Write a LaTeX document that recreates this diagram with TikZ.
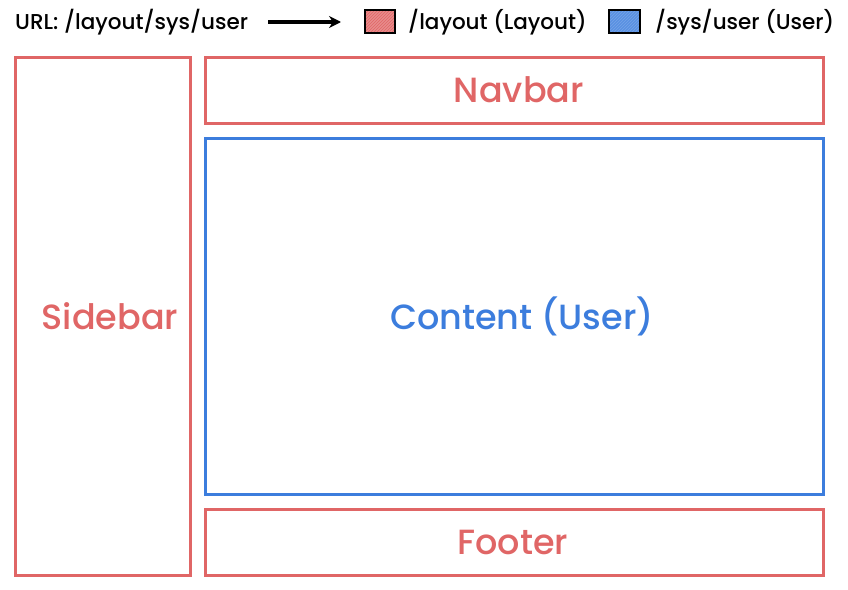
\documentclass[tikz,border=0pt]{standalone}
\usepackage{fontspec}
\setmainfont{Poppins Medium}
\usetikzlibrary{patterns,arrows.meta}
\definecolor{lred}{HTML}{E06666}
\definecolor{lblue}{HTML}{3C7DDD}
\begin{document}
\begin{tikzpicture}[x=1pt,y=-1pt,
  redbox/.style={draw=lred,line width=3pt},
  bluebox/.style={draw=lblue,line width=3pt},
  biglabel/.style={font=\fontsize{35}{40}\selectfont},
  legendtext/.style={font=\fontsize{21.5}{26}\selectfont,anchor=west,inner sep=0pt}]
\useasboundingbox (0,0) rectangle (848,589);
% boxes
\draw[redbox] (15,57) rectangle (190,575);
\draw[redbox] (205,57) rectangle (823,123);
\draw[bluebox] (205,138) rectangle (823,494);
\draw[redbox] (205,509) rectangle (823,575);
\node[biglabel,text=lred] (sidebar) at (110,316) {Sidebar};
\node[biglabel,text=lred] (navbar) at (519,90) {Navbar};
\node[biglabel,text=lblue] (content) at (522,316) {Content (User)};
\node[biglabel,text=lred] (footer) at (513,542) {Footer};
% legend
\node[legendtext] (url) at (15,22) {URL: /layout/sys/user};
\coordinate (as) at (268,22);
\coordinate (ae) at (341,22);
\draw[line width=3.6pt,-{Stealth[length=12pt,width=12pt]}] (as) -- (ae);
\fill[lred!75] (365,10) rectangle (395,33);
\path[pattern=north east lines,pattern color=lred] (365,10) rectangle (395,33);
\draw[line width=1.6pt] (365,10) rectangle (395,33);
\node[legendtext] (lay) at (408,22) {/layout (Layout)};
\fill[lblue!85] (609,10) rectangle (640,33);
\path[pattern=north east lines,pattern color=lblue!70!white] (609,10) rectangle (640,33);
\draw[line width=1.6pt] (609,10) rectangle (640,33);
\node[legendtext] (usr) at (655,22) {/sys/user (User)};
\end{tikzpicture}
\end{document}
